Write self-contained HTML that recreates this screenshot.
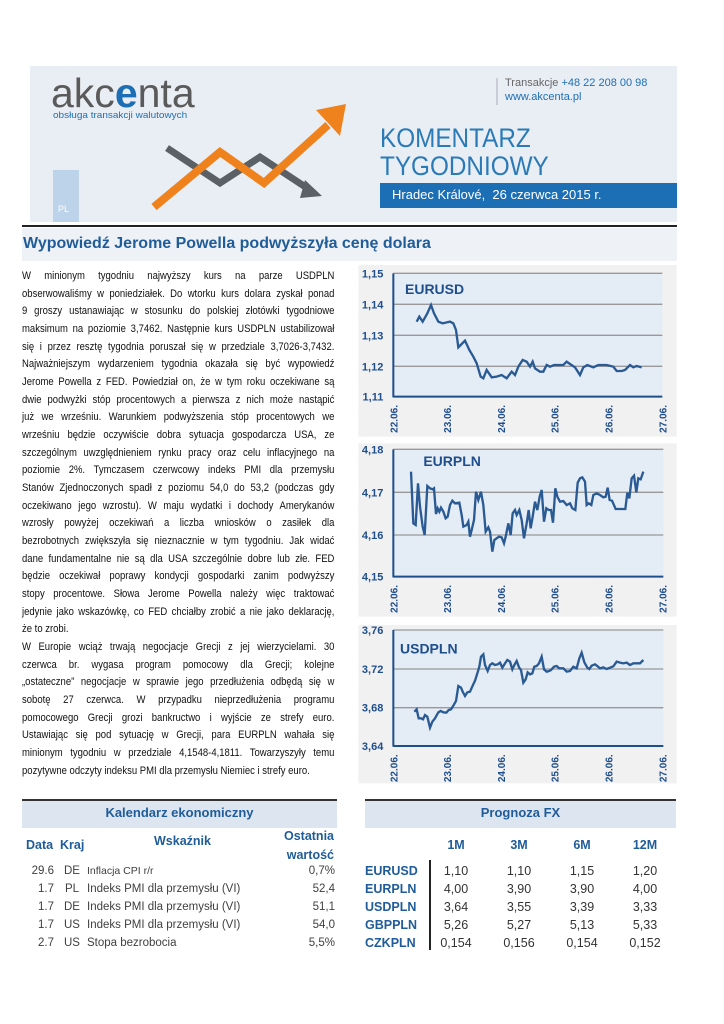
<!DOCTYPE html>
<html><head><meta charset="utf-8"><style>
body{margin:0;width:724px;height:1024px;background:#fff;position:relative;font-family:"Liberation Sans",Arial,sans-serif;overflow:hidden}
.a{position:absolute;white-space:nowrap}
.txt{position:absolute;left:22px;top:268px;width:355px;transform:scaleX(0.88);transform-origin:0 0;font-size:10.8px;color:#111}
.txt div{height:17.68px;line-height:17.68px;text-align:justify;text-align-last:justify;white-space:nowrap}
.txt div.l{text-align-last:left}
.hb{color:#1f5c99;font-weight:bold}
.tb{font-size:11.5px;color:#404040}
</style></head><body>
<div class="a" style="left:30px;top:66px;width:647px;height:156px;background:#e9eef4"></div>
<div class="a" style="left:51px;top:70px;font-size:41px;color:#5a5a5a">akc<span style="color:#1c6fb5;font-weight:bold">e</span>nta</div>
<div class="a" style="left:53px;top:110px;font-size:9.5px;color:#1c6fb5;transform:scaleX(1.05);transform-origin:0 0">obsługa transakcji walutowych</div>
<div class="a" style="left:53px;top:170px;width:26px;height:52px;background:#bcd3ea"></div>
<div class="a" style="left:58px;top:204px;font-size:9px;color:#fff">PL</div>
<svg class="a" style="left:0;top:0" width="724" height="230">
<polyline points="167,148 220,183 260,157 310,190" fill="none" stroke="#5b5f66" stroke-width="7"/>
<polygon points="305,180 322,196 300,198" fill="#5b5f66"/>
<polyline points="154,207 220,152 264,183 328,125" fill="none" stroke="#f0821e" stroke-width="8"/>
<polygon points="316,110 346,104 340,136" fill="#f0821e"/>
<line x1="497" y1="78" x2="497" y2="105" stroke="#aab" stroke-width="1"/>
</svg>
<div class="a" style="left:505px;top:77px;font-size:11px;color:#666">Transakcje <span style="color:#1c6fb5">+48 22 208 00 98</span></div>
<div class="a" style="left:505px;top:91px;font-size:11px;color:#1c6fb5">www.akcenta.pl</div>
<div class="a" style="left:380px;top:123px;font-size:27px;color:#2a7ab8;transform:scaleX(0.9);transform-origin:0 0">KOMENTARZ</div>
<div class="a" style="left:380px;top:151px;font-size:27px;color:#2a7ab8;transform:scaleX(0.9);transform-origin:0 0">TYGODNIOWY</div>
<div class="a" style="left:380px;top:183px;width:297px;height:25px;background:#1c6fb5"></div>
<div class="a" style="left:392px;top:187px;font-size:13px;color:#fff">Hradec Králové,&nbsp; 26 czerwca 2015 r.</div>
<div class="a" style="left:22px;top:225px;width:655px;height:2px;background:#222"></div>
<div class="a" style="left:22px;top:228px;width:655px;height:33px;background:#eef1f5"></div>
<div class="a" style="left:23px;top:235px;font-size:16px;font-weight:bold;color:#1f5c99">Wypowiedź Jerome Powella podwyższyła cenę dolara</div>
<div class="txt">
<div>W minionym tygodniu najwyższy kurs na parze USDPLN</div>
<div>obserwowaliśmy w poniedziałek. Do wtorku kurs dolara zyskał ponad</div>
<div>9 groszy ustanawiając w stosunku do polskiej złotówki tygodniowe</div>
<div>maksimum na poziomie 3,7462. Następnie kurs USDPLN ustabilizował</div>
<div>się i przez resztę tygodnia poruszał się w przedziale 3,7026-3,7432.</div>
<div>Najważniejszym wydarzeniem tygodnia okazała się być wypowiedź</div>
<div>Jerome Powella z FED. Powiedział on, że w tym roku oczekiwane są</div>
<div>dwie podwyżki stóp procentowych a pierwsza z nich może nastąpić</div>
<div>już we wrześniu. Warunkiem podwyższenia stóp procentowych we</div>
<div>wrześniu będzie oczywiście dobra sytuacja gospodarcza USA, ze</div>
<div>szczególnym uwzględnieniem rynku pracy oraz celu inflacyjnego na</div>
<div>poziomie 2%. Tymczasem czerwcowy indeks PMI dla przemysłu</div>
<div>Stanów Zjednoczonych spadł z poziomu 54,0 do 53,2 (podczas gdy</div>
<div>oczekiwano jego wzrostu). W maju wydatki i dochody Amerykanów</div>
<div>wzrosły powyżej oczekiwań a liczba wniosków o zasiłek dla</div>
<div>bezrobotnych zwiększyła się nieznacznie w tym tygodniu. Jak widać</div>
<div>dane fundamentalne nie są dla USA szczególnie dobre lub złe. FED</div>
<div>będzie oczekiwał poprawy kondycji gospodarki zanim podwyższy</div>
<div>stopy procentowe. Słowa Jerome Powella należy więc traktować</div>
<div>jedynie jako wskazówkę, co FED chciałby zrobić a nie jako deklarację,</div>
<div class="l">że to zrobi.</div>
<div>W Europie wciąż trwają negocjacje Grecji z jej wierzycielami. 30</div>
<div>czerwca br. wygasa program pomocowy dla Grecji; kolejne</div>
<div>„ostateczne” negocjacje w sprawie jego przedłużenia odbędą się w</div>
<div>sobotę 27 czerwca. W przypadku nieprzedłużenia programu</div>
<div>pomocowego Grecji grozi bankructwo i wyjście ze strefy euro.</div>
<div>Ustawiając się pod sytuację w Grecji, para EURPLN wahała się</div>
<div>minionym tygodniu w przedziale 4,1548-4,1811. Towarzyszyły temu</div>
<div class="l">pozytywne odczyty indeksu PMI dla przemysłu Niemiec i strefy euro.</div>
</div>
<svg class="a" style="left:350px;top:260px" width="330" height="540" viewBox="0 0 990 1620" font-family="Liberation Sans,Arial,sans-serif" font-weight="bold" fill="#1f4e8c">
<g>
<rect x="25" y="15" width="955" height="515" fill="#f1f1f1"/>
<rect x="130" y="40" width="807" height="370" fill="#e4ecf5"/>
<g stroke="#999" stroke-width="4"><line x1="130" y1="40" x2="937" y2="40"/><line x1="130" y1="133" x2="937" y2="133"/><line x1="130" y1="226" x2="937" y2="226"/><line x1="130" y1="319" x2="937" y2="319"/></g>
<g stroke="#1f4e8c" stroke-width="6"><line x1="130" y1="40" x2="130" y2="412"/><line x1="130" y1="410" x2="937" y2="410"/></g>
<g font-size="33" text-anchor="end"><text x="100" y="52">1,15</text><text x="100" y="145">1,14</text><text x="100" y="238">1,13</text><text x="100" y="331">1,12</text><text x="100" y="422">1,11</text></g>
<text x="165" y="102" font-size="42">EURUSD</text>
<g font-size="30" text-anchor="end"><text transform="translate(142,435) rotate(-90)">22.06.</text><text transform="translate(303,435) rotate(-90)">23.06.</text><text transform="translate(465,435) rotate(-90)">24.06.</text><text transform="translate(626,435) rotate(-90)">25.06.</text><text transform="translate(787,435) rotate(-90)">26.06.</text><text transform="translate(949,435) rotate(-90)">27.06.</text></g>
<polyline fill="none" stroke="#2a5a94" stroke-width="7" points="200,185 208,170 218,185 232,160 243,135 252,160 265,185 278,190 300,185 310,190 318,210 325,262 345,242 358,270 370,290 380,310 392,350 400,355 410,330 425,352 440,350 455,345 470,355 485,335 495,345 505,320 518,300 530,305 540,320 548,305 555,325 570,335 580,335 590,315 600,320 612,315 640,315 650,305 660,312 675,322 690,345 700,322 712,315 730,322 745,315 770,315 790,320 800,333 815,333 825,330 840,315 850,322 860,318 875,322"/>
</g>
<g transform="translate(0,540)">
<rect x="25" y="10" width="955" height="520" fill="#f1f1f1"/>
<rect x="130" y="28" width="810" height="382" fill="#e4ecf5"/>
<g stroke="#999" stroke-width="4"><line x1="130" y1="28" x2="940" y2="28"/><line x1="130" y1="157" x2="940" y2="157"/><line x1="130" y1="285" x2="940" y2="285"/></g>
<g stroke="#1f4e8c" stroke-width="6"><line x1="130" y1="28" x2="130" y2="412"/><line x1="130" y1="410" x2="940" y2="410"/></g>
<g font-size="33" text-anchor="end"><text x="100" y="40">4,18</text><text x="100" y="169">4,17</text><text x="100" y="297">4,16</text><text x="100" y="422">4,15</text></g>
<text x="220" y="78" font-size="42">EURPLN</text>
<g font-size="30" text-anchor="end"><text transform="translate(142,435) rotate(-90)">22.06.</text><text transform="translate(303,435) rotate(-90)">23.06.</text><text transform="translate(465,435) rotate(-90)">24.06.</text><text transform="translate(626,435) rotate(-90)">25.06.</text><text transform="translate(787,435) rotate(-90)">26.06.</text><text transform="translate(949,435) rotate(-90)">27.06.</text></g>
<polyline fill="none" stroke="#2a5a94" stroke-width="7" points="183,95 190,250 197,255 204,130 210,200 218,260 224,285 232,138 240,145 248,148 252,145 258,222 263,205 268,215 273,203 280,215 287,235 293,230 300,195 307,182 315,190 328,188 335,225 340,260 350,255 355,245 360,290 365,270 372,240 378,155 385,180 393,155 400,195 407,275 415,262 420,275 427,335 433,300 440,295 447,290 455,292 462,310 467,290 475,250 482,285 488,220 495,210 500,225 508,210 515,240 522,295 530,250 536,210 542,265 548,230 555,185 562,210 569,170 575,150 582,245 589,205 596,210 603,210 609,248 616,145 622,170 630,185 640,183 650,195 660,190 667,205 676,210 683,128 690,115 697,112 705,125 710,195 716,190 724,195 730,165 740,160 750,165 760,172 767,170 773,143 779,180 786,182 797,207 826,207 832,158 838,175 845,115 852,107 859,157 865,115 872,118 880,95"/>
</g>
<g transform="translate(0,1065)">
<rect x="25" y="30" width="955" height="475" fill="#f1f1f1"/>
<rect x="130" y="45" width="810" height="348" fill="#e4ecf5"/>
<g stroke="#999" stroke-width="4"><line x1="130" y1="45" x2="940" y2="45"/><line x1="130" y1="162" x2="940" y2="162"/><line x1="130" y1="278" x2="940" y2="278"/></g>
<g stroke="#1f4e8c" stroke-width="6"><line x1="130" y1="45" x2="130" y2="395"/><line x1="130" y1="393" x2="940" y2="393"/></g>
<g font-size="33" text-anchor="end"><text x="100" y="57">3,76</text><text x="100" y="174">3,72</text><text x="100" y="290">3,68</text><text x="100" y="405">3,64</text></g>
<text x="150" y="115" font-size="42">USDPLN</text>
<g font-size="30" text-anchor="end"><text transform="translate(142,418) rotate(-90)">22.06.</text><text transform="translate(303,418) rotate(-90)">23.06.</text><text transform="translate(465,418) rotate(-90)">24.06.</text><text transform="translate(626,418) rotate(-90)">25.06.</text><text transform="translate(787,418) rotate(-90)">26.06.</text><text transform="translate(949,418) rotate(-90)">27.06.</text></g>
<polyline fill="none" stroke="#2a5a94" stroke-width="7" points="193,290 200,283 206,310 213,310 219,313 225,300 232,305 240,338 247,320 255,310 265,292 272,288 280,292 289,293 296,285 303,283 310,272 318,258 325,213 333,218 338,230 345,243 352,232 360,230 368,212 375,197 382,175 388,155 393,125 400,118 405,150 413,168 420,150 427,145 435,150 443,148 450,143 457,158 465,145 472,135 480,140 487,163 493,150 500,138 507,157 513,165 520,203 527,193 533,172 540,178 547,175 553,155 560,153 567,145 575,125 582,163 590,170 597,168 603,165 612,155 620,153 628,160 640,160 650,170 660,168 670,155 680,160 688,130 695,113 703,142 712,158 718,162 725,152 735,148 742,153 750,160 760,157 770,162 780,158 790,154 800,140 810,143 820,145 830,143 840,150 850,145 860,145 870,145 880,135"/>
</g>
</svg>
<div class="a" style="left:22px;top:799px;width:315px;height:27px;background:#dde6f0;border-top:2px solid #333"></div>
<div class="a hb" style="left:22px;top:805px;width:315px;text-align:center;font-size:13px">Kalendarz ekonomiczny</div>
<div class="a" style="left:365px;top:799px;width:311px;height:27px;background:#dde6f0;border-top:2px solid #333"></div>
<div class="a hb" style="left:365px;top:805px;width:311px;text-align:center;font-size:13px">Prognoza FX</div>
<div class="a hb" style="left:26px;top:838px;font-size:12.5px">Data</div>
<div class="a hb" style="left:60px;top:838px;font-size:12.5px">Kraj</div>
<div class="a hb" style="left:154px;top:834px;font-size:12.5px">Wskaźnik</div>
<div class="a hb" style="left:270px;top:827px;width:64px;text-align:right;font-size:12.5px;line-height:19px">Ostatnia<br>wartość</div>
<div class="a hb" style="left:436px;top:838px;width:40px;text-align:center;font-size:12.5px">1M</div>
<div class="a hb" style="left:499px;top:838px;width:40px;text-align:center;font-size:12.5px">3M</div>
<div class="a hb" style="left:562px;top:838px;width:40px;text-align:center;font-size:12.5px">6M</div>
<div class="a hb" style="left:625px;top:838px;width:40px;text-align:center;font-size:12.5px">12M</div>
<div class="a" style="left:429px;top:860px;width:1.5px;height:90px;background:#222"></div>
<div class="a tb" style="left:22px;top:862px;width:320px;line-height:18px">
<div style="position:relative;height:18px"><span class="a" style="right:288px">29.6</span><span class="a" style="left:42px">DE</span><span class="a" style="left:65px;font-size:10.5px">Inflacja CPI r/r</span><span class="a" style="right:7px">0,7%</span></div>
<div style="position:relative;height:18px"><span class="a" style="right:288px">1.7</span><span class="a" style="left:43px">PL</span><span class="a" style="left:65px">Indeks PMI dla przemysłu (VI)</span><span class="a" style="right:7px">52,4</span></div>
<div style="position:relative;height:18px"><span class="a" style="right:288px">1.7</span><span class="a" style="left:42px">DE</span><span class="a" style="left:65px">Indeks PMI dla przemysłu (VI)</span><span class="a" style="right:7px">51,1</span></div>
<div style="position:relative;height:18px"><span class="a" style="right:288px">1.7</span><span class="a" style="left:42px">US</span><span class="a" style="left:65px">Indeks PMI dla przemysłu (VI)</span><span class="a" style="right:7px">54,0</span></div>
<div style="position:relative;height:18px"><span class="a" style="right:288px">2.7</span><span class="a" style="left:42px">US</span><span class="a" style="left:65px">Stopa bezrobocia</span><span class="a" style="right:7px">5,5%</span></div>
</div>
<div class="a" style="left:365px;top:862px;width:310px;line-height:18px;font-size:12.5px;color:#333">
<div style="position:relative;height:18px"><b class="a hb">EURUSD</b><span class="a" style="left:66px;width:50px;text-align:center">1,10</span><span class="a" style="left:129px;width:50px;text-align:center">1,10</span><span class="a" style="left:192px;width:50px;text-align:center">1,15</span><span class="a" style="left:255px;width:50px;text-align:center">1,20</span></div>
<div style="position:relative;height:18px"><b class="a hb">EURPLN</b><span class="a" style="left:66px;width:50px;text-align:center">4,00</span><span class="a" style="left:129px;width:50px;text-align:center">3,90</span><span class="a" style="left:192px;width:50px;text-align:center">3,90</span><span class="a" style="left:255px;width:50px;text-align:center">4,00</span></div>
<div style="position:relative;height:18px"><b class="a hb">USDPLN</b><span class="a" style="left:66px;width:50px;text-align:center">3,64</span><span class="a" style="left:129px;width:50px;text-align:center">3,55</span><span class="a" style="left:192px;width:50px;text-align:center">3,39</span><span class="a" style="left:255px;width:50px;text-align:center">3,33</span></div>
<div style="position:relative;height:18px"><b class="a hb">GBPPLN</b><span class="a" style="left:66px;width:50px;text-align:center">5,26</span><span class="a" style="left:129px;width:50px;text-align:center">5,27</span><span class="a" style="left:192px;width:50px;text-align:center">5,13</span><span class="a" style="left:255px;width:50px;text-align:center">5,33</span></div>
<div style="position:relative;height:18px"><b class="a hb">CZKPLN</b><span class="a" style="left:66px;width:50px;text-align:center">0,154</span><span class="a" style="left:129px;width:50px;text-align:center">0,156</span><span class="a" style="left:192px;width:50px;text-align:center">0,154</span><span class="a" style="left:255px;width:50px;text-align:center">0,152</span></div>
</div>
</body></html>
